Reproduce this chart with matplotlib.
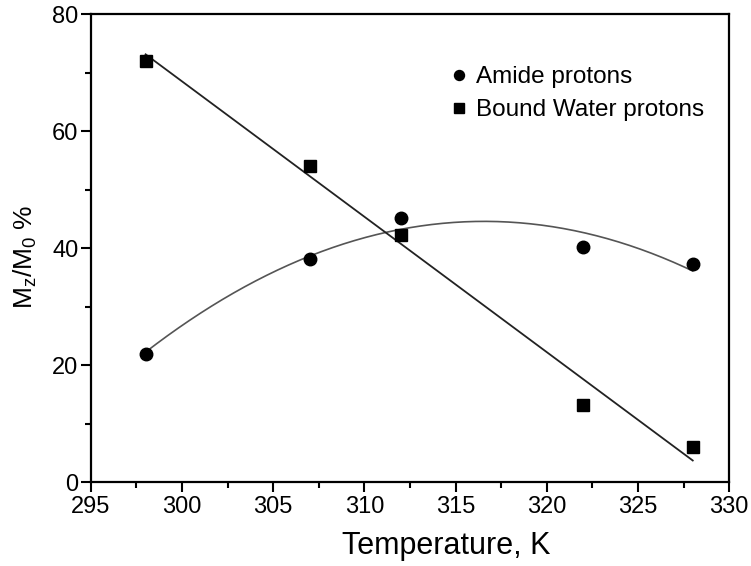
import numpy as np
import matplotlib
matplotlib.use("Agg")
import matplotlib.pyplot as plt
from matplotlib.ticker import MultipleLocator

plt.rcParams['font.family'] = ['Liberation Sans', 'DejaVu Sans']
plt.rcParams['mathtext.fontset'] = 'custom'
plt.rcParams['mathtext.rm'] = 'Liberation Sans'

temps = [298, 307, 312, 322, 328]
amide = [22.0, 38.2, 45.2, 40.2, 37.3]
water = [72.0, 54.0, 42.3, 13.2, 6.0]

fig = plt.figure(figsize=(7.51, 5.66), dpi=100)
ax = fig.add_axes([0.121, 0.148, 0.85, 0.827])

xs = np.linspace(min(temps), max(temps), 200)
pa = np.polyfit(temps, amide, 2)
pw = np.polyfit(temps, water, 1)
ax.plot(xs, np.polyval(pa, xs), color='#555555', lw=1.2)
ax.plot(xs, np.polyval(pw, xs), color='#222222', lw=1.3)

ax.plot(temps, amide, 'o', color='black', ms=9, ls='none', label='Amide protons')
ax.plot(temps, water, 's', color='black', ms=9, ls='none', label='Bound Water protons')

ax.set_xlim(295, 330)
ax.set_ylim(0, 80)
ax.xaxis.set_major_locator(MultipleLocator(5))
ax.xaxis.set_minor_locator(MultipleLocator(2.5))
ax.yaxis.set_major_locator(MultipleLocator(20))
ax.yaxis.set_minor_locator(MultipleLocator(10))
ax.tick_params(which='both', direction='out', top=False, right=False, labelsize=17, width=1.5)
ax.tick_params(which='major', length=7)
ax.tick_params(which='minor', length=4)
ax.tick_params(axis='y', pad=2)
ax.tick_params(axis='x', pad=3)
for s in ax.spines.values():
    s.set_linewidth(1.6)

ax.set_xlabel('Temperature, K', fontsize=22)
ax.xaxis.set_label_coords(0.556, -0.105)
ax.set_ylabel(r'$\mathrm{M_z/M_0}$ %', fontsize=19)
ax.yaxis.set_label_coords(-0.082, 0.481)

ax.legend(loc='upper right', bbox_to_anchor=(0.995, 0.935), frameon=False, fontsize=17.5,
          handletextpad=0.25, markerscale=0.8, labelspacing=0.45, handlelength=0.9)

fig.savefig('out.png', dpi=100)
